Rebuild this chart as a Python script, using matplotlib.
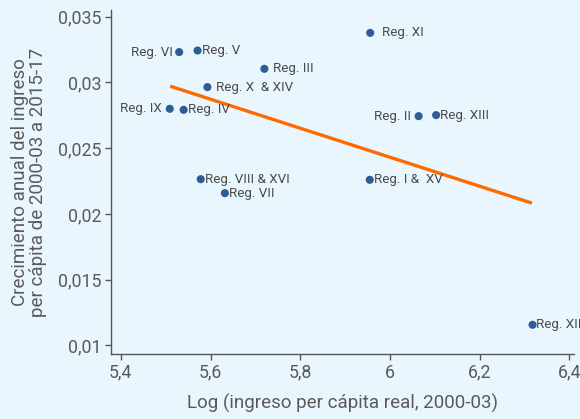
import matplotlib
matplotlib.use("Agg")
import matplotlib.pyplot as plt
from matplotlib.ticker import FuncFormatter

plt.rcParams['font.family'] = ['Roboto', 'DejaVu Sans']

regions = ["Reg. XI", "Reg. VI", "Reg. V", "Reg. III", "Reg. X  & XIV", "Reg. IX",
           "Reg. IV", "Reg. II", "Reg. XIII", "Reg. VIII & XVI", "Reg. VII",
           "Reg. I &  XV", "Reg. XII"]
log_income = [5.956, 5.530, 5.571, 5.720, 5.593, 5.509, 5.540, 6.064, 6.103,
              5.578, 5.632, 5.955, 6.318]
growth = [0.03376, 0.03230, 0.03242, 0.03103, 0.02964, 0.02799, 0.02791,
          0.02743, 0.02751, 0.02264, 0.02158, 0.02259, 0.01157]
# label offsets in pixels (dx, alignment)
label_dx = [11.7, -6.7, 4.3, 8.7, 8.4, -7.7, 4.0, -7.7, 4.0, 4.3, 4.3, 4.3, 3.7]

fit_x = [5.510, 6.3165]
fit_y = [0.02971, 0.02082]

xticks = [5.4, 5.6, 5.8, 6.0, 6.2, 6.4]
yticks = [0.01, 0.015, 0.02, 0.025, 0.03, 0.035]

bg = "#eaf6fd"
txt = "#5a5a5a"
fig = plt.figure(figsize=(5.8, 4.19), dpi=100, facecolor=bg)
W, H = 580, 419
ax = fig.add_axes([111 / W, 1 - 354 / H, 462.8 / W, 344 / H])
ax.set_facecolor(bg)
ax.set_xlim(5.378, 6.41)
ax.set_ylim(0.00935, 0.0355)

ax.plot(fit_x, fit_y, color="#ff6a00", lw=2.4, solid_capstyle="butt", zorder=2)
ax.scatter(log_income, growth, s=34, color="#2e5c94", edgecolor="none", zorder=3)

for name, x, y, dx in zip(regions, log_income, growth, label_dx):
    ax.annotate(name, (x, y), xytext=(dx * 0.72, 0), textcoords="offset points",
                ha="left" if dx > 0 else "right", va="center",
                fontsize=9.6, color="#4a4a4a", zorder=4, annotation_clip=False)

for s in ["top", "right"]:
    ax.spines[s].set_visible(False)
for s in ["left", "bottom"]:
    ax.spines[s].set_color("#555555")
    ax.spines[s].set_linewidth(1.0)

ax.set_xticks(xticks)
ax.set_yticks(yticks)
fmt = lambda v, p: ("%g" % v).replace(".", ",")
ax.xaxis.set_major_formatter(FuncFormatter(fmt))
ax.yaxis.set_major_formatter(FuncFormatter(fmt))
ax.tick_params(axis="both", direction="out", length=4, width=1, color="#555555",
               labelsize=12.8, labelcolor=txt, pad=3)

ax.set_xlabel("Log (ingreso per cápita real, 2000-03)", fontsize=13.5, color=txt,
              labelpad=9)
ax.set_ylabel("Crecimiento anual del ingreso\nper cápita de 2000-03 a 2015-17",
              fontsize=13.5, color=txt, labelpad=8, linespacing=1.0)

fig.savefig("out.png", dpi=100, facecolor=bg)
